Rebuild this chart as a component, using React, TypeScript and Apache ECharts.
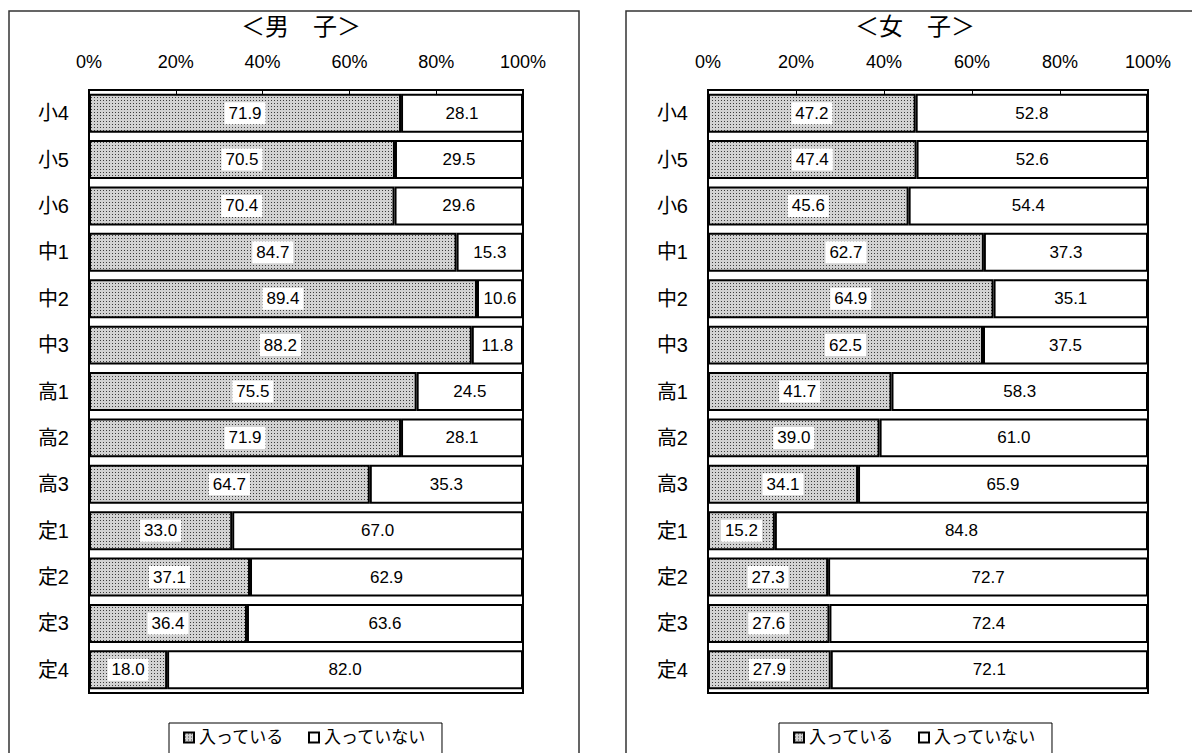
import React, { useEffect, useRef } from "react";
import * as echarts from "echarts";

const categories = ["小4", "小5", "小6", "中1", "中2", "中3", "高1", "高2", "高3", "定1", "定2", "定3", "定4"];
const maleIn = [71.9, 70.5, 70.4, 84.7, 89.4, 88.2, 75.5, 71.9, 64.7, 33.0, 37.1, 36.4, 18.0];
const maleOut = [28.1, 29.5, 29.6, 15.3, 10.6, 11.8, 24.5, 28.1, 35.3, 67.0, 62.9, 63.6, 82.0];
const femaleIn = [47.2, 47.4, 45.6, 62.7, 64.9, 62.5, 41.7, 39.0, 34.1, 15.2, 27.3, 27.6, 27.9];
const femaleOut = [52.8, 52.6, 54.4, 37.3, 35.1, 37.5, 58.3, 61.0, 65.9, 84.8, 72.7, 72.4, 72.1];
const seriesNames = ["入っている", "入っていない"];
const titles = ["＜男　子＞", "＜女　子＞"];

const FONT = "'Liberation Sans', 'Noto Sans CJK JP', sans-serif";

function makePattern(): HTMLCanvasElement {
  const c = document.createElement("canvas");
  c.width = 3;
  c.height = 3;
  const ctx = c.getContext("2d")!;
  ctx.fillStyle = "#d2d2d2";
  ctx.fillRect(0, 0, 3, 3);
  ctx.fillStyle = "#3c3c3c";
  ctx.fillRect(1, 1, 1, 1);
  return c;
}

export default function App() {
  const ref = useRef<HTMLDivElement>(null);
  useEffect(() => {
    if (!ref.current) return;
    const chart = echarts.init(ref.current, null, { renderer: "svg" });
    const pattern = { image: makePattern(), repeat: "repeat" as const };

    const grids = [
      { left: 89, width: 434, top: 90, height: 603 },
      { left: 708, width: 440, top: 90, height: 603 },
    ];
    const xAxes = grids.map((_, i) => ({
      type: "value",
      gridIndex: i,
      position: "top",
      min: 0,
      max: 100,
      interval: 20,
      axisLine: { show: true, lineStyle: { color: "#000", width: 2 } },
      axisTick: { show: true, inside: true, length: 4, lineStyle: { color: "#000" } },
      splitLine: { show: false },
      axisLabel: {
        formatter: "{value}%",
        color: "#000",
        fontSize: 18,
        fontFamily: FONT,
        margin: 19,
      },
    }));
    const yAxes = grids.map((_, i) => ({
      type: "category",
      gridIndex: i,
      data: categories,
      inverse: true,
      axisLine: { show: true, lineStyle: { color: "#000", width: 2 } },
      axisTick: { show: false },
      axisLabel: { color: "#000", fontSize: 20, fontFamily: FONT, margin: 20 },
    }));

    const inLabel = {
      show: true,
      position: "inside",
      color: "#000",
      fontSize: 17,
      fontFamily: FONT,
      backgroundColor: "#fff",
      padding: [3, 4, 2, 4],
      formatter: (p: any) => p.value.toFixed(1),
    };
    const outLabel = {
      show: true,
      position: "inside",
      color: "#000",
      fontSize: 17,
      fontFamily: FONT,
      formatter: (p: any) => p.value.toFixed(1),
    };
    const mk = (name: string, data: number[], idx: number, isIn: boolean) => ({
      name,
      type: "bar",
      stack: "s" + idx,
      xAxisIndex: idx,
      yAxisIndex: idx,
      data,
      barCategoryGap: "16%",
      itemStyle: isIn
        ? { color: pattern, borderColor: "#000", borderWidth: 2 }
        : { color: "#fff", borderColor: "#000", borderWidth: 2 },
      label: isIn ? inLabel : outLabel,
    });

    const legends = [
      { left: 169, top: 723 },
      { left: 779, top: 723 },
    ].map((p) => ({
      ...p,
      orient: "horizontal",
      data: seriesNames,
      icon: "rect",
      itemWidth: 10,
      itemHeight: 10,
      itemGap: 24,
      padding: [6, 16, 14, 14],
      borderColor: "#000",
      borderWidth: 1,
      backgroundColor: "#fff",
      textStyle: { color: "#000", fontSize: 17, fontFamily: FONT },
      selectedMode: false,
    }));

    chart.setOption({
      animation: false,
      backgroundColor: "#fff",
      title: [
        { text: titles[0], left: 296, textAlign: "center", top: 9, textStyle: { fontSize: 24, fontWeight: "normal", color: "#000", fontFamily: FONT } },
        { text: titles[1], left: 910, textAlign: "center", top: 9, textStyle: { fontSize: 24, fontWeight: "normal", color: "#000", fontFamily: FONT } },
      ],
      grid: grids.map((g) => ({ ...g, show: true, borderColor: "#000", borderWidth: 2, backgroundColor: "transparent" })),
      xAxis: xAxes,
      yAxis: yAxes,
      legend: legends,
      graphic: [
        { type: "rect", shape: { x: 9, y: 11, width: 570, height: 800 }, style: { fill: "none", stroke: "#333", lineWidth: 1.5 }, silent: true },
        { type: "rect", shape: { x: 626, y: 11, width: 600, height: 800 }, style: { fill: "none", stroke: "#333", lineWidth: 1.5 }, silent: true },
      ],
      series: [
        mk(seriesNames[0], maleIn, 0, true),
        mk(seriesNames[1], maleOut, 0, false),
        mk(seriesNames[0], femaleIn, 1, true),
        mk(seriesNames[1], femaleOut, 1, false),
      ],
    });
    return () => chart.dispose();
  }, []);
  return (
    <div
      ref={ref}
      style={{ position: "fixed", left: 0, top: 0, width: 1192, height: 753 }}
    />
  );
}
